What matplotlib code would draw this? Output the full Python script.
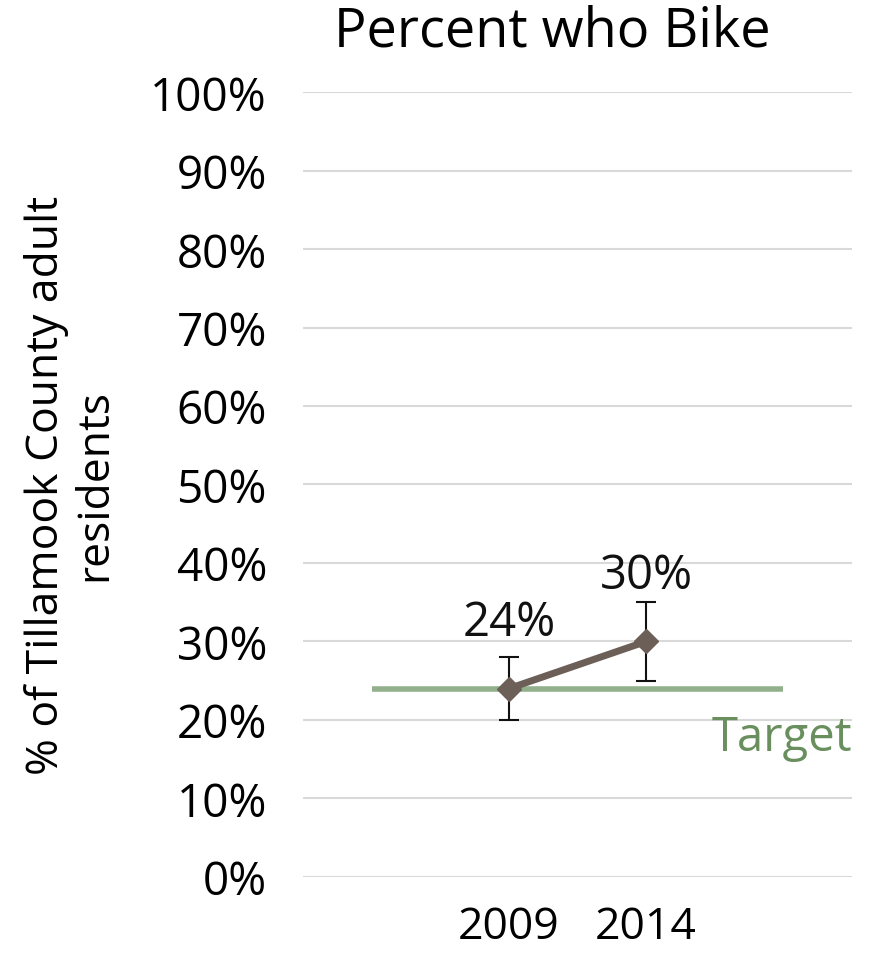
import matplotlib
matplotlib.use("Agg")
import matplotlib.pyplot as plt
import numpy as np

plt.rcParams['font.family'] = ['Open Sans', 'DejaVu Sans']

categories = ["", "2009", "2014", ""]
years = ["2009", "2014"]
values = [0.24, 0.30]
err_low = [0.20, 0.25]
err_high = [0.28, 0.35]
target = 0.24
yticks = [i / 10 for i in range(11)]
ytick_labels = [f"{int(round(t * 100))}%" for t in yticks]

fig = plt.figure(figsize=(8.69, 9.54), dpi=100)
ax = fig.add_axes([0.3487, 0.0797, 0.6317, 0.8228])

x = np.arange(len(categories))
ax.set_xlim(-0.5, len(categories) - 0.5)
ax.set_ylim(0, 1)

for t in yticks:
    ax.axhline(t, color="#D9D9D9", lw=1.5, zorder=0)

ax.plot([x[0], x[-1]], [target, target], color="#93B08D", lw=4, zorder=2, solid_capstyle="butt")

px = [categories.index(y) for y in years]
vals = np.array(values)
yerr = [vals - np.array(err_low), np.array(err_high) - vals]
ax.errorbar(px, vals, yerr=yerr, fmt="none", ecolor="#111111", elinewidth=1.5, capsize=7, capthick=1.5, zorder=3)
ax.plot(px, vals, color="#6C5F58", lw=5, marker="D", markersize=12, zorder=4)

for xi, v in zip(px, values):
    ax.text(xi, v + 0.085, f"{int(round(v * 100))}%", ha="center", va="center", fontsize=34, color="#111111")

ax.text(x[-1] + 0.5, target - 0.062, "Target", ha="right", va="center", fontsize=34, color="#6A8F5F")

ax.set_yticks(yticks)
ax.set_yticklabels(ytick_labels, fontsize=33)
ax.set_xticks(x)
ax.set_xticklabels(categories, fontsize=32)
ax.tick_params(axis="y", length=0, pad=26)
ax.tick_params(axis="x", length=0, pad=20)
for s in ax.spines.values():
    s.set_visible(False)

ax.set_ylabel("% of Tillamook County adult\nresidents", fontsize=32, labelpad=24, linespacing=1.1)
fig.text(0.635, 0.966, "Percent who Bike", ha="center", va="center", fontsize=39)

fig.savefig("out.png", dpi=100)
